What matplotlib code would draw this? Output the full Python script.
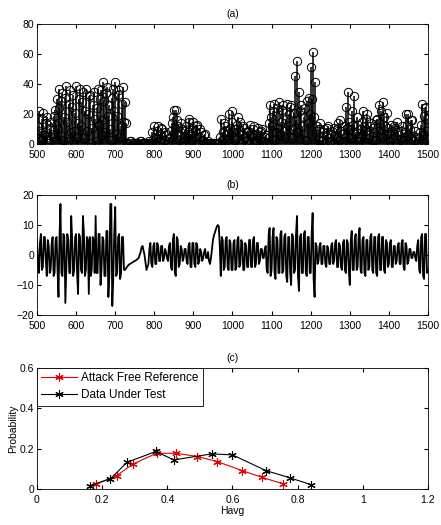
import numpy as np
import matplotlib
matplotlib.use("Agg")
import matplotlib.pyplot as plt

plt.rcParams['font.family'] = ['Liberation Sans', 'DejaVu Sans']
plt.rcParams['font.size'] = 7.5

# sample index shared by panels (a) and (b)
samples = np.arange(500, 1500.1, 2.5)

# (a) stem values, 20 per line = 50 samples
stem_values = [
    12, 4, 22, 9, 3, 17, 21, 6, 8, 14, 18, 2, 1, 11, 15, 7, 5, 19, 23, 13,
    30, 10, 37, 24, 6, 29, 34, 3, 18, 31, 39, 15, 2, 27, 36, 8, 25, 33, 9, 21,
    39, 5, 14, 30, 37, 12, 28, 35, 4, 22, 37, 9, 20, 32, 33, 1, 11, 26, 35, 17,
    2, 24, 37, 13, 30, 36, 16, 6, 41, 29, 8, 34, 38, 19, 26, 10, 3, 31, 37, 22,
    41, 7, 19, 33, 36, 5, 12, 27, 38, 15, 28, 14, 1, 0, 0, 2, 2, 1, 1, 0,
    0, 1, 1, 0, 0, 2, 2, 1, 1, 0, 0, 1, 1, 0, 0, 2, 1, 0, 8, 3,
    12, 5, 4, 9, 12, 2, 7, 11, 10, 1, 3, 8, 6, 0, 2, 4, 5, 9, 14, 18,
    23, 11, 23, 16, 12, 3, 6, 14, 10, 2, 4, 9, 12, 5, 8, 15, 17, 7, 3, 11,
    15, 4, 9, 12, 13, 1, 5, 10, 8, 3, 2, 6, 7, 0, 1, 2, 0, 1, 1, 0,
    0, 1, 1, 0, 0, 1, 1, 5, 17, 3, 8, 14, 12, 6, 3, 9, 20, 11, 6, 15,
    22, 8, 10, 3, 4, 13, 18, 9, 15, 1, 7, 12, 11, 5, 2, 8, 9, 0, 13, 6,
    5, 10, 12, 1, 3, 7, 11, 4, 8, 9, 10, 2, 2, 5, 6, 1, 4, 14, 26, 18,
    12, 22, 27, 3, 8, 19, 24, 11, 28, 6, 15, 23, 26, 9, 5, 17, 27, 13, 20, 25,
    26, 4, 10, 21, 45, 16, 55, 8, 35, 22, 26, 12, 7, 18, 24, 3, 29, 14, 31, 20,
    51, 30, 61, 18, 41, 9, 12, 3, 5, 10, 14, 2, 3, 8, 10, 1, 6, 11, 12, 4,
    2, 7, 9, 1, 11, 6, 4, 10, 14, 3, 16, 9, 7, 2, 12, 5, 25, 11, 35, 15,
    10, 4, 22, 13, 32, 7, 8, 18, 13, 2, 5, 10, 15, 6, 22, 12, 9, 17, 20, 4,
    6, 12, 14, 3, 11, 8, 3, 16, 17, 9, 26, 14, 22, 5, 28, 18, 12, 7, 21, 11,
    7, 2, 13, 9, 4, 12, 11, 1, 15, 8, 6, 3, 9, 12, 2, 5, 8, 1, 20, 13,
    20, 6, 10, 16, 16, 2, 3, 9, 5, 1, 2, 4, 8, 13, 27, 6, 19, 24, 25, 9,
    17,
]

# (b) signal values, 20 per line = 50 samples
signal_values = [
    5, -3, -6, 4, 7, -5, -4, 6, 6, -2, -7, 5, 3, -6, -5, 4, 6, -7, -6, 5,
    6, -5, -14, 6, 17, -6, -7, 7, 6, -16, -5, 7, 5, -6, -6, 13, 5, -7, -5, 6,
    7, -6, -13, 7, 6, -5, -6, 13, 7, -7, -5, 6, 5, -13, 6, -7, -5, 6, 5, -6,
    13, -6, -6, 7, 7, -10, -5, 6, 5, -7, -7, 8, 8, -14, -7, 17, 17, -17, -8, 7,
    16, -7, -6, 6, 7, -8, -6, 6, 6, -5, -5, -4.5, -4, -3.6, -3.2, -3, -2.8, -2.6, -2.4, -2.2,
    -2, -1.8, -1.6, -1.3, -1, 0, 1, 2.5, 3, 1.5, 0, -2.5, -5, -4, -3, 2, 4, -3, -4, 3,
    4, -3, -3, 4, 3, -2, -2, 3, 3, -2, -1, 2, 1, -1, -2, 3, 4, -4, -5, 5,
    7, -6, -7, 6, 5, -4, -3, 3, 2, -2, -1, 2, 2, -2, -3, 3, 4, -4, -4, 4,
    4, -3, -4, 4, 3, -3, -2, 2, 1, -2, -1, 1, 2, -1, -1, 1, -2, -3, -1, 2,
    5, 6.5, 7.5, 8.5, 9.5, 10, 9.5, 3, -7, 6, 5, -5, -4, 5, 6, -4, -5, 5, 4, -5,
    -5, 4, 5, -5, -4, 5, 6, -4, -3, 5, 4, -5, -5, 4, 3, -4, -4, 5, 5, -4,
    -4, 5, 6, -4, -3, 4, 4, -3, -2, 2, 2, -1, -1, 2, 3, -5, -6, 7, 9, -7,
    -5, 6, 9, -6, -8, 6, 5, -6, -6, 7, 8, -6, -5, 6, 7, -7, -9, 6, 6, -6,
    -10, 7, 6, -6, -5, 7, 13, -7, -12, 6, 7, -6, -6, 7, 8, -6, -7, 6, 6, -6,
    -6, 7, 14, -8, -14, 4, 3, -3, -2, 3, 4, -3, -3, 3, 3, -3, -4, 3, 2, -3,
    -3, 3, 4, -3, -2, 4, 5, -4, -4, 4, 3, -4, -5, 4, 5, -5, -6, 5, 4, -5,
    -10, 5, 8, -5, -5, 5, 7, -5, -4, 6, 9, -5, -6, 5, 6, -6, -7, 5, 5, -5,
    -4, 6, 7, -5, -6, 6, 6, -6, -7, 6, 7, -5, -5, 6, 6, -5, -6, 5, 4, -4,
    -3, 4, 5, -4, -4, 3, 3, -3, -2, 3, 4, -3, -3, 4, 5, -4, -5, 4, 3, -3,
    -2, 2, 2, -1, -1, 1, 1, -1, -2, 3, 5, -5, -6, 6, 7, -7, -8, 7, 7, -6,
    -5,
]

# (c) probability curves
ref_havg = [0.182, 0.244, 0.295, 0.367, 0.428, 0.492, 0.553, 0.630, 0.690, 0.756]
ref_prob = [0.025, 0.066, 0.124, 0.177, 0.177, 0.161, 0.136, 0.091, 0.058, 0.025]
test_havg = [0.162, 0.225, 0.277, 0.365, 0.420, 0.536, 0.600, 0.703, 0.775, 0.840]
test_prob = [0.017, 0.050, 0.133, 0.186, 0.144, 0.174, 0.169, 0.091, 0.056, 0.022]


def matlab_style(ax):
    ax.tick_params(direction='in', top=True, right=True, length=3, labelsize=7.5)
    ax.tick_params(axis='x', pad=4)
    ax.tick_params(axis='y', pad=2)
    for s in ax.spines.values():
        s.set_linewidth(0.6)


fig = plt.figure(figsize=(4.41, 5.25), dpi=100)

ax1 = fig.add_axes([0.0839, 0.7257, 0.8866, 0.2286])
markers, stems, base = ax1.stem(samples, stem_values, linefmt='k-', markerfmt='ko', basefmt='k-')
markers.set_markerfacecolor('none')
markers.set_markersize(6)
markers.set_markeredgewidth(0.7)
stems.set_linewidth(1.1)
base.set_linewidth(1.0)
ax1.set_xlim(500, 1500)
ax1.set_ylim(0, 80)
ax1.set_xticks(range(500, 1501, 100))
ax1.set_yticks(range(0, 81, 20))
ax1.set_title('(a)', fontsize=7.5, pad=5)
matlab_style(ax1)

ax2 = fig.add_axes([0.0839, 0.4, 0.8866, 0.2286])
ax2.plot(samples, signal_values, color='k', linewidth=1.3)
ax2.set_xlim(500, 1500)
ax2.set_ylim(-20, 20)
ax2.set_xticks(range(500, 1501, 100))
ax2.set_yticks(range(-20, 21, 10))
ax2.set_title('(b)', fontsize=7.5, pad=5)
matlab_style(ax2)

ax3 = fig.add_axes([0.0839, 0.0686, 0.8866, 0.2305])
ax3.plot(ref_havg, ref_prob, color='#e00000', linewidth=0.8, marker=(6, 2, 0),
         markersize=6, markeredgewidth=0.8, label='Attack Free Reference')
ax3.plot(test_havg, test_prob, color='k', linewidth=0.8, marker=(6, 2, 0),
         markersize=6, markeredgewidth=0.8, label='Data Under Test')
ax3.set_xlim(0, 1.2)
ax3.set_ylim(0, 0.6)
ax3.set_xticks([0, 0.2, 0.4, 0.6, 0.8, 1, 1.2])
ax3.set_xticklabels(['0', '0.2', '0.4', '0.6', '0.8', '1', '1.2'])
ax3.set_yticks([0, 0.2, 0.4, 0.6])
ax3.set_yticklabels(['0', '0.2', '0.4', '0.6'])
ax3.set_title('(c)', fontsize=7.5, pad=5)
ax3.set_xlabel('Havg', fontsize=7.5, labelpad=1)
ax3.set_ylabel('Probability', fontsize=7.5, labelpad=1)
leg = ax3.legend(loc='upper left', fontsize=8.5, fancybox=False, framealpha=1,
                 edgecolor='k', borderaxespad=0, handlelength=3,
                 borderpad=0.35, labelspacing=0.45, handletextpad=0.4)
leg.get_frame().set_linewidth(0.6)
matlab_style(ax3)

fig.savefig('out.png', dpi=100)
